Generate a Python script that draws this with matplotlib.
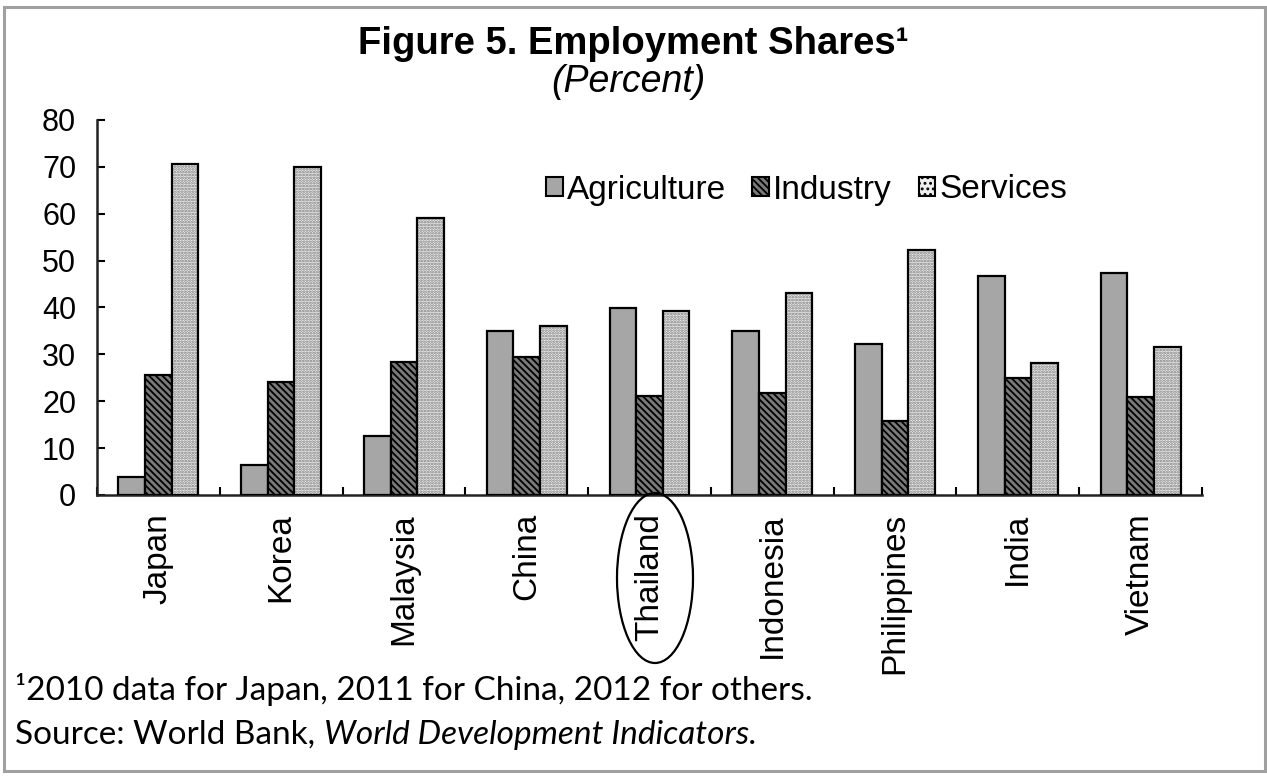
import matplotlib
matplotlib.use("Agg")
import matplotlib.pyplot as plt
import numpy as np
from matplotlib.patches import Patch, Ellipse, Rectangle

countries = ["Japan", "Korea", "Malaysia", "China", "Thailand",
             "Indonesia", "Philippines", "India", "Vietnam"]
agriculture = [3.8, 6.5, 12.6, 34.9, 39.8, 34.9, 32.2, 46.8, 47.4]
industry = [25.7, 24.2, 28.4, 29.4, 21.2, 21.7, 15.7, 25.0, 21.0]
services = [70.7, 70.0, 59.0, 36.0, 39.2, 43.0, 52.3, 28.2, 31.5]
series_names = ["Agriculture", "Industry", "Services"]
y_ticks = [0, 10, 20, 30, 40, 50, 60, 70, 80]

plt.rcParams["hatch.linewidth"] = 1.3
W, H = 1267, 776
fig = plt.figure(figsize=(W / 100, H / 100), dpi=100)
fig.patch.set_facecolor("white")
ax = fig.add_axes([97 / W, 1 - 495 / H, (1202 - 97) / W, (495 - 120) / H])

x = np.arange(len(countries))
bw = 0.217
lw = 1.6

# Agriculture
ax.bar(x - bw, agriculture, bw, facecolor="#a6a6a6", edgecolor="black", linewidth=lw, zorder=3)
# Industry
ax.bar(x, industry, bw, facecolor="#7a7a7a", edgecolor="black", hatch="\\\\\\\\\\", linewidth=lw, zorder=3)
# Services: dotted fill then outline
ax.bar(x + bw, services, bw, facecolor="#f0f0f0", edgecolor="#7a7a7a", hatch="......", linewidth=0, zorder=3)
ax.bar(x + bw, services, bw, fill=False, edgecolor="black", linewidth=lw, zorder=4)

ax.set_xlim(-0.5, len(countries) - 0.5)
ax.set_ylim(0, 80)
ax.set_yticks(y_ticks)
ax.tick_params(axis="y", direction="in", length=6, width=1.5, pad=15, labelsize=22)
ax.set_xticks(np.arange(len(countries) + 1) - 0.5)
ax.set_xticklabels([])
ax.tick_params(axis="x", which="major", direction="in", length=6, width=1.5)
ax.set_xticks(x, minor=True)
ax.set_xticklabels(countries, minor=True, rotation=90, fontsize=24)
ax.tick_params(axis="x", which="minor", length=0, pad=13)
for lab in ax.get_yticklabels() + ax.get_xticklabels(minor=True):
    lab.set_fontfamily("Liberation Sans")
for side in ["top", "right"]:
    ax.spines[side].set_visible(False)
for side in ["left", "bottom"]:
    ax.spines[side].set_linewidth(1.8)
    ax.spines[side].set_color("#222222")

handles = [
    Patch(facecolor="#a6a6a6", edgecolor="black", linewidth=1.5),
    Patch(facecolor="#7a7a7a", edgecolor="black", hatch="\\\\\\\\\\", linewidth=1.5),
    Patch(facecolor="#eeeeee", edgecolor="black", hatch="...", linewidth=1.5),
]
fig.legend(handles, series_names, loc="center left", bbox_to_anchor=(546 / W, 1 - 190 / H),
           ncol=3, frameon=False, prop={"family": "Liberation Sans", "size": 24},
           handlelength=0.5, handleheight=0.5, handletextpad=0.12, columnspacing=0.8,
           borderpad=0, borderaxespad=0)

fig.text(633 / W, 1 - 44 / H, "Figure 5. Employment Shares\u00b9", ha="center", va="center",
         fontsize=27.5, fontweight="bold", family="Liberation Sans")
fig.text(628 / W, 1 - 82 / H, "(Percent)", ha="center", va="center",
         fontsize=27, style="italic", family="Liberation Sans")

fig.text(15 / W, 1 - 690 / H, "\u00b92010 data for Japan, 2011 for China, 2012 for others.",
         ha="left", va="center", fontsize=24, family="Lato")
fig.text(15 / W, 1 - 735 / H, "Source: World Bank, ", ha="left", va="center",
         fontsize=24, family="Lato")
t = fig.text(15 / W, 1 - 735 / H, "Source: World Bank, ", ha="left", va="center",
             fontsize=24, family="Lato", alpha=0)
fig.canvas.draw()
bb = t.get_window_extent()
fig.text(bb.x1 / W, 1 - 735 / H, "World Development Indicators.", ha="left", va="center",
         fontsize=24, family="Lato", style="italic")

fig.patches.append(Ellipse((655 / W, 1 - 578 / H), 76 / W, 170 / H, transform=fig.transFigure,
                           fill=False, edgecolor="black", linewidth=1.6))
fig.patches.append(Rectangle((4 / W, 1 - 771 / H), (1265 - 4) / W, (771 - 7) / H,
                             transform=fig.transFigure, fill=False, edgecolor="#a0a0a0",
                             linewidth=2.2))

fig.savefig("out.png", dpi=100, facecolor="white")
